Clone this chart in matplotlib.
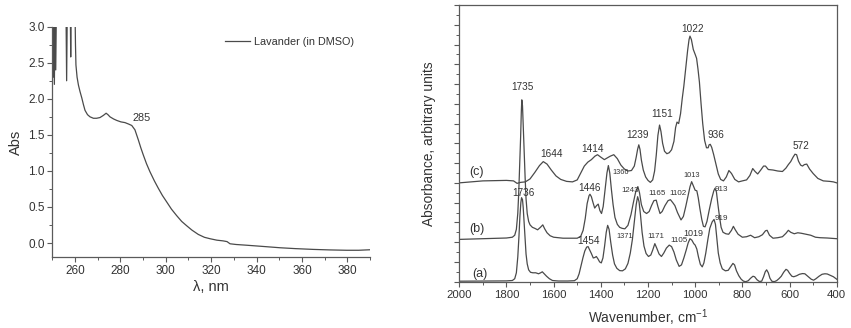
import matplotlib
matplotlib.use("Agg")
import matplotlib.pyplot as plt
from matplotlib.ticker import MultipleLocator, NullFormatter

plt.rcParams['font.family'] = ['Liberation Sans', 'DejaVu Sans']
plt.rcParams['mathtext.fontset'] = 'custom'
plt.rcParams['mathtext.rm'] = 'Liberation Sans'

LINE = '#4a4a4a'
AXC = '#5a5a5a'
TXT = '#333333'

# ---- UV-Vis spectrum (left panel) ----
lam_uv = [250.0, 250.4, 250.6, 250.9, 251.2, 251.5, 251.8, 256.0, 256.3, 256.6,
          257.9, 258.1, 258.3, 259.8,
          260.0, 260.2, 260.4, 260.9, 261.5, 262.2, 263.0, 263.7, 264.4, 265.5,
          266.6, 268.1, 269.5, 271.0, 272.5, 273.7, 274.5, 275.4, 277.0, 278.4,
          280.2, 282.0, 283.6, 285.0, 286.4, 287.9, 289.0, 290.1, 291.5, 293.0,
          295.0, 296.7, 298.5, 300.4, 302.5, 304.8, 307.0, 309.2, 311.5, 314.3,
          317.0, 319.5, 322.5, 325.3, 327.0, 328.3, 331.0, 335.6, 342.0, 350.3,
          357.0, 365.0, 372.0, 379.7, 385.0, 390.0]
abs_uv = [3.3, 2.3, 3.3, 2.2, 3.3, 2.4, 3.3, 3.3, 2.25, 3.3,
          3.3, 2.58, 3.3, 3.3,
          3.2, 2.75, 2.47, 2.3, 2.19, 2.1, 2.01, 1.92, 1.84, 1.78,
          1.75, 1.73, 1.73, 1.74, 1.77, 1.80, 1.78, 1.75, 1.72, 1.70,
          1.68, 1.67, 1.65, 1.63, 1.57, 1.43, 1.32, 1.22, 1.10, 0.99,
          0.86, 0.76, 0.66, 0.57, 0.47, 0.38, 0.30, 0.24, 0.18, 0.12,
          0.08, 0.06, 0.04, 0.03, 0.02, -0.01, -0.02, -0.03, -0.045, -0.065,
          -0.077, -0.088, -0.095, -0.10, -0.10, -0.093]

# ---- IR spectra (right panel), arbitrary units ----
wn_c = [2000, 1900, 1800, 1770, 1755, 1740, 1720, 1700, 1680, 1660, 1644, 1628,
        1610, 1590, 1570, 1545, 1520, 1500, 1485, 1470, 1455, 1440, 1425, 1414,
        1400, 1385, 1371, 1360, 1345, 1330, 1315, 1300, 1285, 1270, 1258, 1250,
        1244, 1239, 1234, 1228, 1220, 1210, 1200, 1190, 1180, 1172, 1165, 1158,
        1151, 1145, 1138, 1130, 1120, 1110, 1100, 1090, 1083, 1077, 1070, 1062,
        1055, 1048, 1040, 1032, 1026, 1022, 1016, 1008, 1000, 994, 988, 982,
        975, 968, 960, 952, 945, 941, 936, 930, 922, 912, 902, 892, 880, 868,
        857, 846, 832, 816, 800, 782, 768, 756, 746, 735, 722, 710, 702, 690,
        670, 650, 630, 615, 605, 595, 585, 577, 570, 562, 553, 545, 537, 527,
        515, 500, 480, 457, 430, 414, 400]
ir_c = [10.0, 10.2, 10.25, 10.2, 9.95, 10.05, 10.1, 10.4, 11.05, 11.75, 12.15, 11.9,
        11.3, 10.7, 10.35, 10.15, 10.1, 10.3, 11.0, 11.7, 12.1, 12.35, 12.7, 12.85,
        12.6, 12.35, 12.55, 12.7, 12.85, 12.45, 11.8, 11.4, 11.2, 11.25, 11.7, 12.6,
        13.4, 13.85, 13.4, 12.3, 11.3, 10.6, 10.25, 10.05, 10.3, 11.2, 12.8, 14.8,
        15.85, 15.2, 14.0, 13.2, 12.95, 13.05, 13.35, 14.2, 15.6, 16.15, 16.0, 17.0,
        18.5, 19.8, 21.6, 23.4, 24.5, 24.85, 24.5, 23.5, 23.0, 22.6, 21.5, 20.2,
        18.0, 16.0, 14.3, 13.55, 13.55, 13.85, 13.9, 13.6, 12.9, 11.9, 10.9, 10.35, 10.2, 10.6,
        11.25, 10.95, 10.35, 10.1, 10.2, 10.3, 10.75, 11.45, 11.15, 10.9, 11.3, 11.7, 11.7, 11.35,
        11.3, 11.2, 11.15, 11.5, 11.85, 12.15, 12.6, 12.9, 12.85, 12.2, 11.8, 11.7, 11.85, 11.9,
        11.4, 10.95, 10.45, 10.2, 10.15, 10.1, 10.0]

wn_b = [2000, 1900, 1800, 1775, 1765, 1758, 1752, 1748, 1744, 1740, 1737, 1735,
        1732, 1729, 1725, 1721, 1717, 1712, 1706, 1700, 1690, 1680, 1668, 1656,
        1646, 1638, 1628, 1615, 1600, 1560, 1500, 1485, 1475, 1466, 1458, 1450,
        1446, 1440, 1433, 1426, 1418, 1411, 1404, 1397, 1390, 1382, 1374, 1368,
        1362, 1355, 1348, 1340, 1330, 1320, 1310, 1298, 1285, 1272, 1262, 1252,
        1243, 1236, 1228, 1218, 1206, 1195, 1185, 1175, 1165, 1158, 1149, 1140,
        1128, 1115, 1105, 1095, 1086, 1075, 1060, 1050, 1040, 1030, 1022, 1015,
        1008, 1000, 993, 987, 980, 972, 965, 958, 950, 940, 930, 921, 916, 910,
        904, 897, 890, 882, 870, 858, 846, 838, 830, 818, 800, 782, 765, 748,
        730, 715, 702, 695, 685, 670, 650, 630, 615, 605, 595, 580, 565, 550,
        530, 510, 490, 470, 440, 400]
ir_b = [4.28, 4.35, 4.42, 4.5, 4.7, 5.3, 6.9, 9.0, 11.8, 14.6, 17.2, 18.4,
        17.8, 15.8, 13.2, 10.6, 8.4, 6.9, 6.1, 5.75, 5.5, 5.4, 5.25, 5.5,
        5.75, 5.35, 4.95, 4.65, 4.5, 4.4, 4.4, 4.6, 5.2, 6.4, 7.9, 8.7,
        8.85, 8.6, 8.0, 7.45, 7.7, 7.85, 7.2, 6.9, 7.6, 9.3, 11.0, 11.75,
        11.0, 9.3, 7.8, 6.5, 5.8, 5.5, 5.4, 5.35, 5.7, 6.8, 8.0, 9.1,
        9.62, 9.0, 7.8, 7.1, 6.9, 7.1, 7.7, 8.2, 8.25, 7.6, 6.9, 7.1,
        7.7, 8.2, 8.3, 8.0, 7.7, 7.0, 6.25, 6.6, 7.6, 8.7, 9.6, 10.12,
        9.7, 9.25, 9.2, 8.5, 7.4, 6.3, 5.6, 5.55, 6.1, 7.3, 8.4, 9.2, 9.45, 9.1,
        7.9, 6.6, 5.5, 5.0, 4.85, 4.8, 5.2, 5.6, 5.25, 4.8, 4.5, 4.55, 4.7, 4.45,
        4.55, 4.75, 5.15, 5.2, 4.7, 4.4, 4.45, 4.55, 4.9, 5.2, 5.0, 4.85, 4.95, 4.9,
        4.8, 4.7, 4.5, 4.45, 4.42, 4.35]

wn_a = [2000, 1900, 1800, 1775, 1765, 1758, 1752, 1747, 1743, 1739, 1736, 1732,
        1729, 1725, 1721, 1717, 1712, 1706, 1698, 1688, 1676, 1664, 1655, 1648,
        1640, 1630, 1618, 1605, 1580, 1540, 1512, 1500, 1492, 1484, 1476, 1468,
        1460, 1454, 1447, 1440, 1432, 1425, 1419, 1412, 1405, 1398, 1391, 1384,
        1377, 1371, 1365, 1358, 1350, 1342, 1332, 1320, 1308, 1296, 1285, 1275,
        1266, 1258, 1250, 1244, 1238, 1232, 1225, 1217, 1208, 1198, 1188, 1180,
        1171, 1163, 1153, 1143, 1133, 1122, 1110, 1100, 1090, 1080, 1068, 1058,
        1048, 1038, 1030, 1022, 1014, 1006, 1000, 993, 986, 978, 970, 963,
        955, 946, 938, 928, 920, 914, 908, 902, 894, 885, 872, 860,
        850, 840, 833, 825, 815, 805, 795, 785, 775, 765, 755, 748,
        738, 728, 718, 710, 703, 697, 690, 683, 675, 665, 655, 645,
        635, 625, 615, 608, 600, 590, 582, 570, 558, 545, 535, 520,
        508, 498, 488, 475, 462, 450, 440, 428, 414, 400]
ir_a = [0.05, 0.06, 0.08, 0.12, 0.3, 0.9, 2.5, 4.6, 6.6, 8.0, 8.5, 8.3,
        7.5, 5.9, 4.2, 2.8, 1.8, 1.2, 0.95, 0.9, 0.9, 0.8, 0.9, 1.0,
        0.8, 0.55, 0.3, 0.12, 0.07, 0.07, 0.1, 0.3, 0.8, 1.6, 2.4, 3.1,
        3.5, 3.55, 3.2, 2.85, 2.4, 2.45, 2.55, 2.3, 2.0, 1.9, 2.4, 3.6,
        5.0, 5.7, 5.3, 4.0, 2.7, 1.8, 1.35, 1.12, 1.1, 1.3, 1.85, 2.9,
        4.3, 6.1, 7.8, 8.6, 8.1, 6.8, 5.0, 3.6, 2.85, 2.55, 2.7, 3.2,
        3.85, 3.4, 2.8, 2.55, 2.9, 3.4, 3.7, 3.55, 3.0, 2.2, 1.55, 1.7,
        2.4, 3.2, 3.9, 4.35, 4.2, 3.85, 3.7, 3.3, 2.5, 1.75, 1.5, 1.9,
        2.9, 4.3, 5.4, 6.05, 6.3, 5.8, 4.3, 2.9, 1.9, 1.3, 1.1, 1.15,
        1.5, 1.85, 1.7, 1.1, 0.6, 0.25, 0.05, 0.0, 0.1, 0.35, 0.55, 0.5,
        0.2, 0.02, 0.05, 0.5, 1.0, 1.2, 0.9, 0.35, 0.05, 0.0, 0.1, 0.3,
        0.55, 0.95, 1.25, 1.15, 0.85, 0.55, 0.5, 0.6, 0.75, 0.82, 0.8, 0.5,
        0.25, 0.15, 0.3, 0.55, 0.75, 0.8, 0.78, 0.65, 0.5, 0.25]

# peak labels: (text, wavenumber, height, size)
peak_labels = [("1735", 1733, 19.7, 7.2), ("1644", 1608, 12.9, 7.2),
               ("1414", 1435, 13.4, 7.2), ("1239", 1245, 14.8, 7.2),
               ("1151", 1141, 17.0, 7.2), ("1022", 1013, 25.6, 7.2),
               ("936", 914, 14.8, 7.2), ("572", 551, 13.7, 7.2),
               ("1366", 1314, 11.0, 5.3), ("1013", 1015, 10.75, 5.3),
               ("1446", 1449, 9.45, 7.2), ("1243", 1276, 9.2, 5.6),
               ("1165", 1163, 8.95, 5.8), ("1102", 1074, 8.9, 5.8),
               ("913", 887, 9.3, 5.8), ("1736", 1729, 8.95, 7.2),
               ("919", 887, 6.4, 5.8), ("1454", 1453, 4.15, 7.2),
               ("1371", 1300, 4.55, 5.3), ("1171", 1166, 4.55, 5.6),
               ("1105", 1067, 4.15, 5.8), ("1019", 1008, 4.9, 6.5)]
trace_labels = [("(c)", 1926, 11.1), ("(b)", 1924, 5.3), ("(a)", 1912, 0.8)]


fig = plt.figure(figsize=(8.51, 3.28), dpi=100)

# ---------------- left panel ----------------
ax1 = fig.add_axes([0.0615, 0.215, 0.3733, 0.7037])
ax1.plot(lam_uv, abs_uv, color=LINE, lw=0.9, label='Lavander (in DMSO)')
ax1.set_xlim(250, 390)
ax1.set_ylim(-0.2, 3.0)
ax1.xaxis.set_minor_locator(MultipleLocator(10))
ax1.yaxis.set_major_locator(MultipleLocator(0.5))
ax1.yaxis.set_minor_locator(MultipleLocator(0.25))
ax1.set_xticks([260, 280, 300, 320, 340, 360, 380])
ax1.yaxis.set_major_formatter(matplotlib.ticker.FormatStrFormatter('%.1f'))
for s in ['top', 'right']:
    ax1.spines[s].set_visible(False)
for s in ['left', 'bottom']:
    ax1.spines[s].set_color(AXC)
    ax1.spines[s].set_linewidth(0.9)
ax1.tick_params(which='major', direction='out', length=3.5, width=0.8,
                color=AXC, labelsize=8.5, labelcolor=TXT, pad=2)
ax1.tick_params(which='minor', direction='out', length=2, width=0.7, color=AXC)
ax1.set_xlabel('λ, nm', fontsize=10.5, color=TXT, labelpad=2)
ax1.set_ylabel('Abs', fontsize=10.5, color=TXT, labelpad=4)
ax1.text(289.5, 1.73, '285', fontsize=7.8, color=TXT, ha='center', va='center')
leg = ax1.legend(loc='center left', bbox_to_anchor=(0.5436, 0.935), frameon=False,
                 fontsize=7.8, handlelength=2.3, handletextpad=0.35,
                 borderpad=0, borderaxespad=0)
for t in leg.get_texts():
    t.set_color(TXT)

# ---------------- right panel ----------------
ax2 = fig.add_axes([0.5397, 0.1412, 0.4435, 0.8436])
ax2.plot(wn_c, ir_c, color=LINE, lw=0.9)
ax2.plot(wn_b, ir_b, color=LINE, lw=0.9)
ax2.plot(wn_a, ir_a, color=LINE, lw=0.9)
ax2.set_xlim(2000, 400)
ax2.set_ylim(0, 28)
ax2.xaxis.set_major_locator(MultipleLocator(200))
ax2.xaxis.set_minor_locator(MultipleLocator(100))
ax2.yaxis.set_major_locator(MultipleLocator(2))
ax2.yaxis.set_minor_locator(MultipleLocator(1))
ax2.yaxis.set_major_formatter(NullFormatter())
for s in ax2.spines.values():
    s.set_color(AXC)
    s.set_linewidth(0.9)
ax2.tick_params(which='major', direction='out', length=3.5, width=0.8,
                color=AXC, labelsize=8.2, labelcolor=TXT, pad=2.5)
ax2.tick_params(which='minor', direction='out', length=2.2, width=0.7, color=AXC)
ax2.set_xlabel(r'Wavenumber, cm$^{\mathrm{-1}}$', fontsize=9.9, color=TXT, labelpad=5)
ax2.set_ylabel('Absorbance, arbitrary units', fontsize=9.9, color=TXT, labelpad=11)

for txt, x, y, size in peak_labels:
    ax2.text(x, y, txt, fontsize=size, color=TXT, ha='center', va='center')
for txt, x, y in trace_labels:
    ax2.text(x, y, txt, fontsize=9, color=TXT, ha='center', va='center')

fig.savefig('out.png', dpi=100, facecolor='white')
